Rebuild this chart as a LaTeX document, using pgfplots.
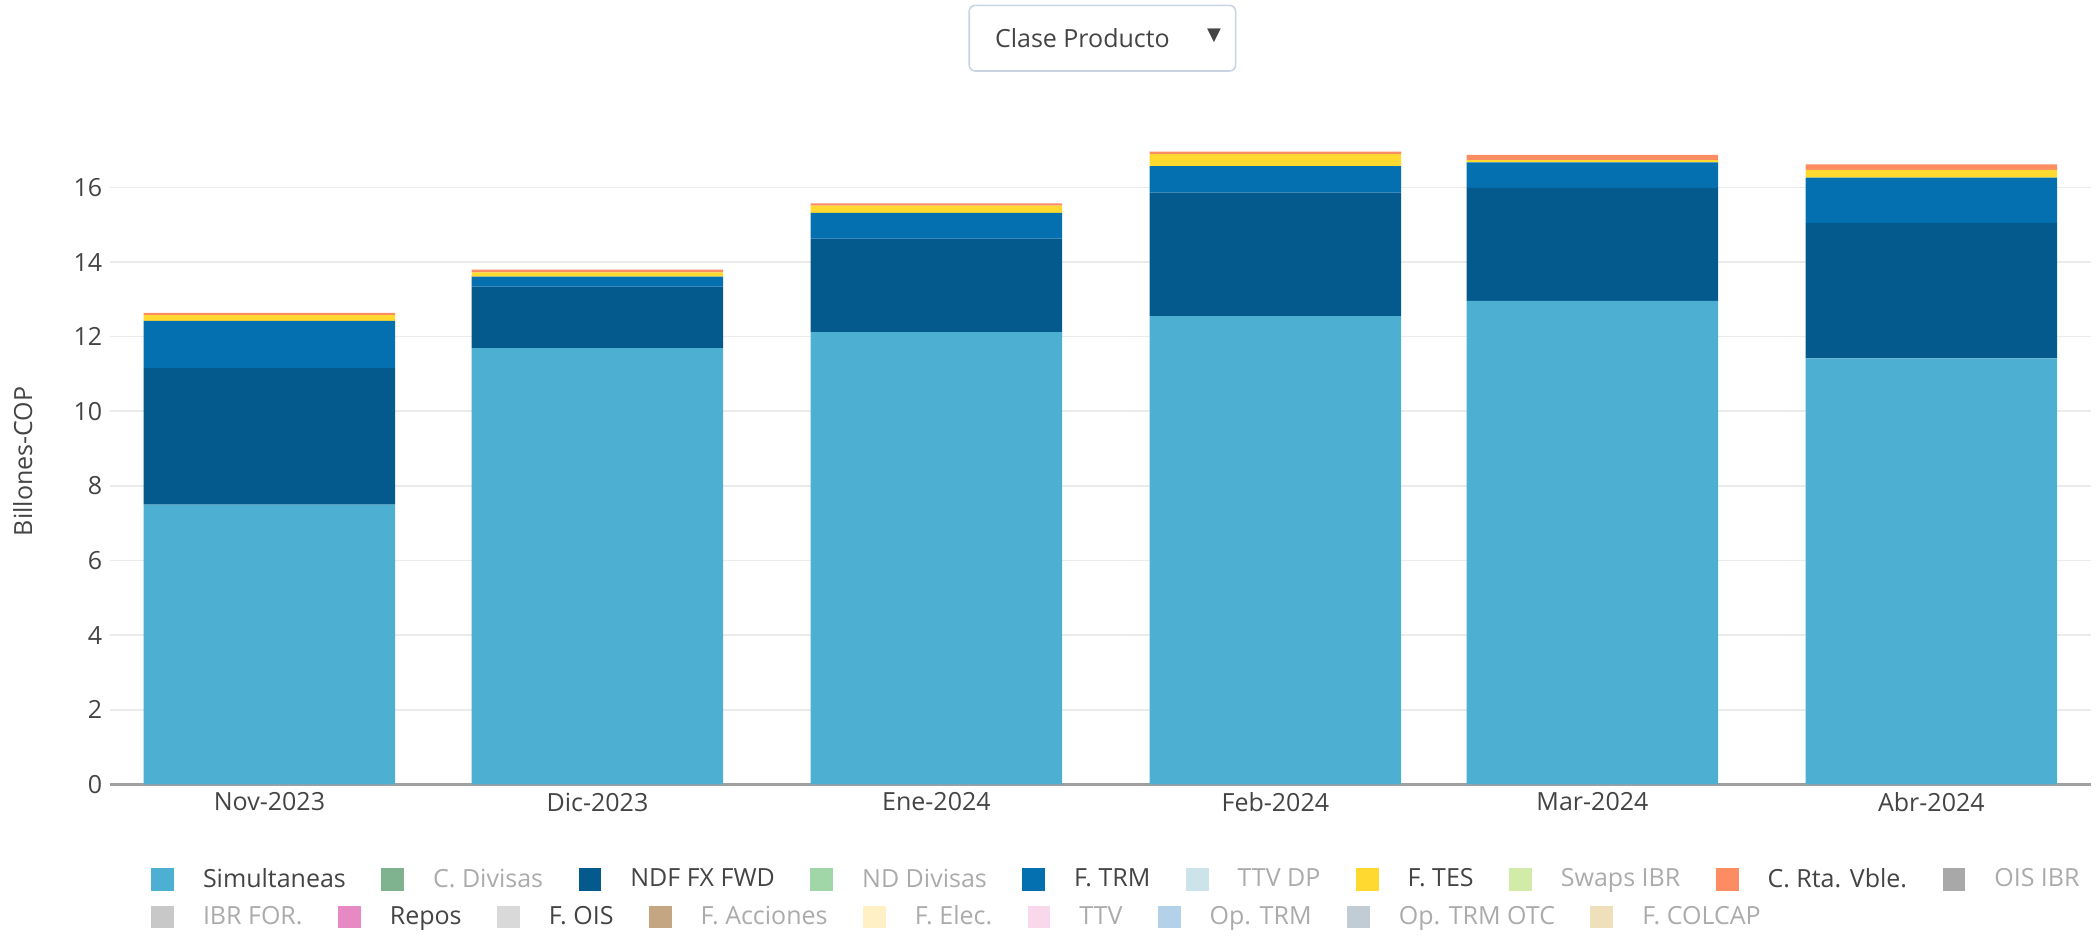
\documentclass[border=0pt]{standalone}
\usepackage{fontspec}
\setmainfont{Open Sans}
\newfontfamily\symfont{DejaVu Sans}
\usepackage{pgfplots}
\pgfplotsset{compat=1.18}

% colours
\definecolor{simul}{HTML}{4DB0D3}
\definecolor{ndf}{HTML}{045A8D}
\definecolor{ftrm}{HTML}{0570B0}
\definecolor{ftes}{HTML}{FFD92F}
\definecolor{crta}{HTML}{FC8D62}
\definecolor{cdiv}{HTML}{7FB38F}
\definecolor{nddiv}{HTML}{A1D6A8}
\definecolor{ttvdp}{HTML}{CCE3EA}
\definecolor{swaps}{HTML}{D3EBA8}
\definecolor{oisibr}{HTML}{A8A8A8}
\definecolor{ibrfor}{HTML}{C8C8C8}
\definecolor{repos}{HTML}{E78AC3}
\definecolor{fois}{HTML}{D9D9D9}
\definecolor{facc}{HTML}{C4A682}
\definecolor{felec}{HTML}{FFF0C6}
\definecolor{ttv}{HTML}{F9D8EC}
\definecolor{optrm}{HTML}{B3D1E8}
\definecolor{optrmotc}{HTML}{C2CCD4}
\definecolor{fcolcap}{HTML}{EFDFBB}
\definecolor{txt}{HTML}{444444}
\definecolor{off}{HTML}{ABABAB}
\definecolor{gridc}{HTML}{EBEBEB}
\definecolor{zeroc}{HTML}{A0A0A0}
\definecolor{boxc}{HTML}{C9D3E2}

\newcommand{\off}[1]{\textcolor{off}{#1}}

\pgfplotsset{
  sqleg/.style={legend image code/.code={\fill[##1,draw=none] (0pt,-5.7pt) rectangle (11.4pt,5.7pt);}},
  legrow/.style={
    legend cell align=left,
    legend style={draw=none, fill=none, inner sep=0pt, outer sep=0pt,
      font=\fontsize{12.5}{15}\selectfont, text=txt,
      nodes={inner sep=0pt},
      /tikz/every odd column/.append style={column sep=14.5pt},
      /tikz/every even column/.append style={column sep=17.7pt}},
  },
}

\begin{document}
\begin{tikzpicture}[x=1pt,y=1pt]
\path[use as bounding box] (0,0) rectangle (1049.5,468.5);

% dropdown box
\draw[boxc, line width=0.8pt, rounded corners=3pt] (484.6,433.0) rectangle (617.8,465.8);
\node[anchor=west, inner sep=0pt, text=txt, font=\fontsize{12.5}{15}\selectfont] at (497.3,449.6) {Clase Producto};
\node[inner sep=0pt, text=txt, font=\fontsize{9}{10}\symfont] at (607,450.6) {▼};

\begin{axis}[
  at={(54.9pt,76.3pt)}, anchor=south west,
  scale only axis, width=990.6pt, height=333pt,
  ybar stacked, bar width=23,
  every axis plot post/.append style={sqleg},
  xmin=-14.6, xmax=166.6, ymin=0, ymax=17.85,
  xtick={0,30,61,92,121,152},
  xticklabels={Nov-2023,Dic-2023,Ene-2024,Feb-2024,Mar-2024,Abr-2024},
  ytick={0,2,...,16},
  major tick length=0pt,
  axis lines*=left,
  x axis line style={zeroc, line width=1.6pt, -},
  y axis line style={draw=none},
  ymajorgrids, grid style={gridc, line width=0.8pt},
  ticklabel style={font=\fontsize{12.5}{15}\selectfont, text=txt},
  /pgf/number format/assume math mode=true,
  xticklabel style={inner sep=0pt, yshift=-4pt},
  yticklabel style={inner sep=0pt, xshift=-3.6pt},
  ylabel={Billones-COP},
  ylabel style={at={(axis description cs:-0.0439,0.485)}, anchor=center,
    font=\fontsize{12.5}{15}\selectfont, text=txt},
  legrow, legend columns=10,
  legend style={at={(axis description cs:0.0209,-0.1426)}, anchor=west},
]
\addplot[fill=simul, draw=none] coordinates {(0,7.50) (30,11.69) (61,12.12) (92,12.55) (121,12.96) (152,11.42)};
\addlegendentry{Simultaneas}
\addlegendimage{sqleg, fill=cdiv}
\addlegendentry{\off{C. Divisas}}
\addplot[fill=ndf, draw=none] coordinates {(0,3.66) (30,1.65) (61,2.51) (92,3.31) (121,3.03) (152,3.62)};
\addlegendentry{NDF FX FWD}
\addlegendimage{sqleg, fill=nddiv}
\addlegendentry{\off{ND Divisas}}
\addplot[fill=ftrm, draw=none] coordinates {(0,1.26) (30,0.27) (61,0.69) (92,0.71) (121,0.68) (152,1.22)};
\addlegendentry{F. TRM}
\addlegendimage{sqleg, fill=ttvdp}
\addlegendentry{\off{TTV DP}}
\addplot[fill=ftes, draw=none] coordinates {(0,0.16) (30,0.11) (61,0.19) (92,0.32) (121,0.06) (152,0.21)};
\addlegendentry{F. TES}
\addlegendimage{sqleg, fill=swaps}
\addlegendentry{\off{Swaps IBR}}
\addplot[fill=crta, draw=none] coordinates {(0,0.06) (30,0.08) (61,0.06) (92,0.07) (121,0.14) (152,0.15)};
\addlegendentry{C. Rta. Vble.}
\addlegendimage{sqleg, fill=oisibr}
\addlegendentry{\off{OIS IBR}}
\end{axis}

% second legend row
\begin{axis}[
  at={(54.9pt,76.3pt)}, anchor=south west,
  scale only axis, width=990.6pt, height=333pt,
  hide axis, xmin=0, xmax=1, ymin=0, ymax=1,
  legrow, legend columns=9,
  legend style={at={(axis description cs:0.0209,-0.199)}, anchor=west},
]
\addlegendimage{sqleg, fill=ibrfor}
\addlegendentry{\off{IBR FOR.}}
\addlegendimage{sqleg, fill=repos}
\addlegendentry{Repos}
\addlegendimage{sqleg, fill=fois}
\addlegendentry{F. OIS}
\addlegendimage{sqleg, fill=facc}
\addlegendentry{\off{F. Acciones}}
\addlegendimage{sqleg, fill=felec}
\addlegendentry{\off{F. Elec.}}
\addlegendimage{sqleg, fill=ttv}
\addlegendentry{\off{TTV}}
\addlegendimage{sqleg, fill=optrm}
\addlegendentry{\off{Op. TRM}}
\addlegendimage{sqleg, fill=optrmotc}
\addlegendentry{\off{Op. TRM OTC}}
\addlegendimage{sqleg, fill=fcolcap}
\addlegendentry{\off{F. COLCAP}}
\end{axis}
\end{tikzpicture}
\end{document}
